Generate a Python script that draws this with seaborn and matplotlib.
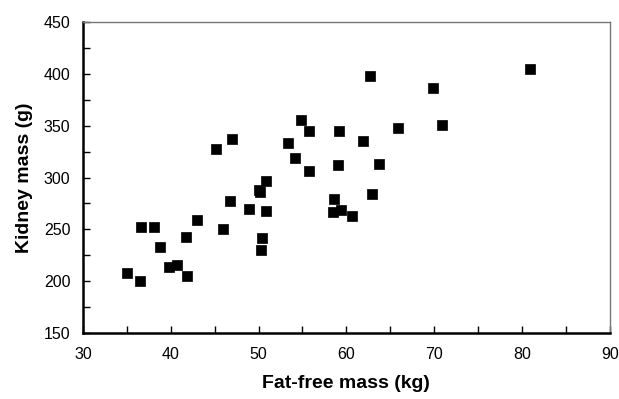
import numpy as np
import pandas as pd
import seaborn as sns
import matplotlib.pyplot as plt
from matplotlib.ticker import MultipleLocator

# Valores
fat_free_mass = [35.0, 36.5, 36.6, 38.1, 38.8, 39.8, 40.7, 41.9, 41.7, 43.0,
                 45.2, 47.0, 46.0, 46.8, 48.9, 50.0, 50.2, 50.9, 50.8, 50.4,
                 50.3, 53.4, 54.1, 54.8, 55.8, 55.7, 58.6, 58.5, 59.4, 60.6,
                 59.2, 59.1, 61.9, 62.7, 62.9, 63.7, 65.9, 69.9, 70.9, 80.9]
kidney_mass = [208, 200, 252, 252, 233, 214, 216, 205, 243, 259,
               328, 337, 250, 277, 270, 288, 286, 297, 268, 242,
               230, 333, 319, 355, 345, 306, 279, 267, 269, 263,
               345, 312, 335, 398, 284, 313, 348, 386, 351, 405]

df = pd.DataFrame({'ffm': fat_free_mass, 'km': kidney_mass})

sns.set_style('ticks')
plt.rcParams['font.family'] = ['Liberation Sans', 'DejaVu Sans']
plt.rcParams['text.color'] = 'black'
plt.rcParams['axes.labelcolor'] = 'black'
plt.rcParams['xtick.labelcolor'] = 'black'
plt.rcParams['ytick.labelcolor'] = 'black'

fig = plt.figure(figsize=(6.19, 3.99), dpi=100)
ax = fig.add_axes([0.134, 0.165, 0.851, 0.78])

sns.scatterplot(data=df, x='ffm', y='km', marker='s', s=42,
                color='black', edgecolor='black', linewidth=0.5, ax=ax)

ax.set_xlim(30, 90)
ax.set_ylim(150, 450)
ax.xaxis.set_major_locator(MultipleLocator(10))
ax.xaxis.set_minor_locator(MultipleLocator(5))
ax.yaxis.set_major_locator(MultipleLocator(50))
ax.yaxis.set_minor_locator(MultipleLocator(25))
ax.tick_params(which='both', direction='in', length=5, width=1, labelsize=11.5,
               color='black', labelcolor='black')
ax.tick_params(axis='x', pad=10)
ax.tick_params(axis='y', pad=9)

for side in ['left', 'bottom']:
    ax.spines[side].set_linewidth(1.8)
    ax.spines[side].set_color('black')
for side in ['top', 'right']:
    ax.spines[side].set_linewidth(1.0)
    ax.spines[side].set_color('#777777')

ax.set_xlabel('Fat-free mass (kg)', fontsize=14, fontweight='bold', labelpad=9)
ax.set_ylabel('Kidney mass (g)', fontsize=14, fontweight='bold', labelpad=8)

fig.savefig('out.png', dpi=100)
